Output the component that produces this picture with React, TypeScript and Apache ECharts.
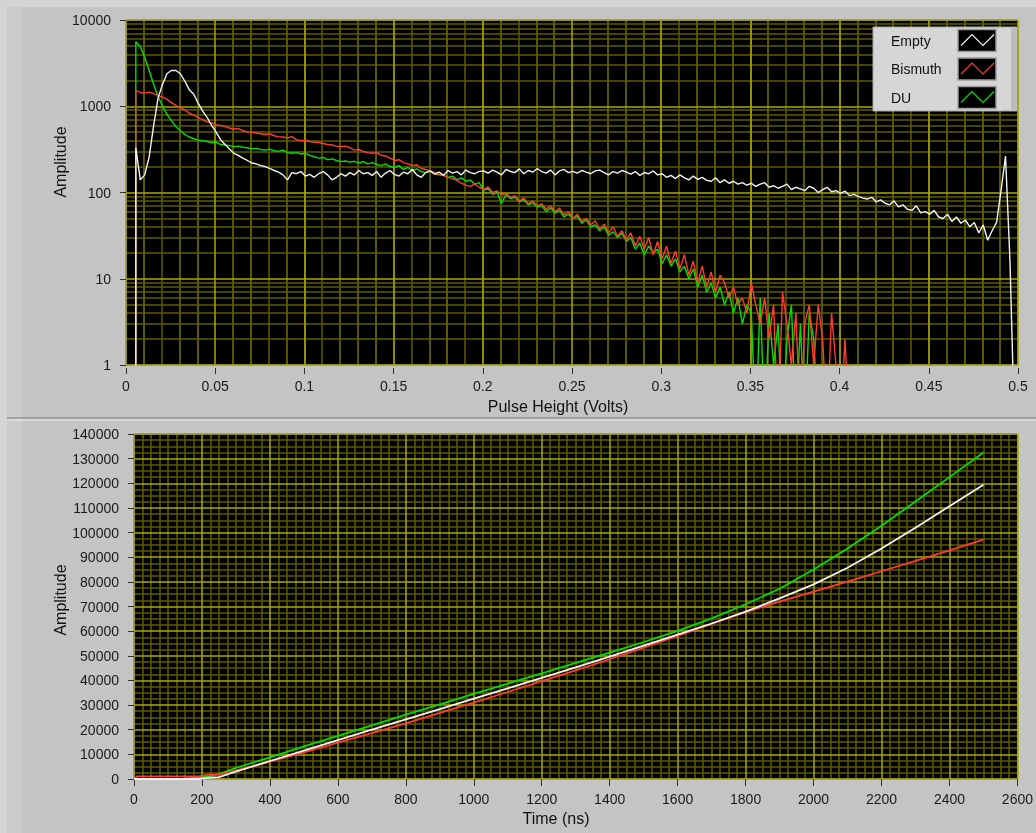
import React, { useEffect, useRef } from "react";
import * as echarts from "echarts";

// ---------- Top graph: pulse-height histograms ----------
const pulseStart = 0.0055; // Volts, first channel drawn
const pulseStep = 0.0025; // Volts per channel

const emptyCounts = [
  330, 140, 160, 260, 600, 1250, 1800, 2400, 2600, 2600,
  2380, 1950, 1550, 1380, 1080, 880, 740, 600, 500, 410,
  360, 320, 285, 270, 250, 235, 220, 215, 205, 200,
  190, 180, 172, 160, 140, 170, 165, 175, 155, 162,
  150, 165, 175, 160, 140, 150, 165, 155, 170, 160,
  180, 165,
  170, 158, 175, 150, 168, 180, 162, 155, 172, 165,
  185, 160, 150, 170, 178, 163, 172, 158, 180, 168,
  175, 160, 182, 170, 165, 176,
  178, 168, 182, 172, 160, 185, 175, 170, 188, 165,
  180, 172, 190, 175, 168, 182, 160, 178, 185, 170,
  176, 168, 180, 172, 165, 178, 182, 170, 160, 175,
  168, 180, 172, 163, 175, 158, 170, 165, 178, 160,
  165, 150, 158, 145, 160, 148, 140, 155, 142, 150,
  138, 135, 148, 130, 140, 128, 135, 125, 130, 122,
  128, 118, 125, 130, 115, 120, 112, 118, 125, 108,
  115, 110, 105, 118, 112, 100, 108, 115, 102, 105,
  98, 104, 92, 95, 90, 86, 84, 88, 78, 82,
  75, 72, 80, 68, 72, 64, 62, 70, 58, 60,
  56, 62, 52, 50, 56, 46, 52, 44, 48, 40,
  45, 34, 42, 28, 36, 45,
  105, 265, 16, 0,
];

const bismuthCounts = [
  1520, 1450, 1420, 1460, 1400, 1330, 1280, 1200, 1100, 1020,
  960, 900, 830, 790, 740, 700, 660, 640, 610, 600,
  580, 560, 545, 550, 520, 505, 500, 490, 480, 470,
  480, 455, 445, 440, 430, 445, 410, 400, 405, 390,
  385, 380, 370, 360, 355, 345, 340, 345, 330, 310,
  315, 300, 290, 285, 290, 270, 265, 250, 235, 240,
  222, 215, 205, 210, 190, 185, 178, 170, 162, 158,
  150, 145, 138, 128, 122, 118, 125, 115,
  108, 116, 100, 104, 94, 98, 88, 92, 80, 86,
  74, 80, 70, 74, 64, 70, 60, 66, 55, 60,
  50, 56, 46, 50, 42, 47, 38, 43, 34, 40,
  31, 36, 28, 34, 24, 31, 22, 30, 19, 27,
  17, 24, 15, 21, 13, 19, 11, 16, 9, 14,
  8, 12, 7, 11,
  9, 6, 8, 5, 6, 4, 9, 5, 3, 6,
  2, 5, 0, 7, 3, 1, 4, 0, 3, 5,
  1, 5, 2, 0, 4, 1, 0, 2, 0,
  0, 1, 0, 0, 0, 0, 1, 0, 0, 0,
  0, 1, 0, 0, 0, 0, 0, 1, 0, 0,
  0, 0, 0, 0, 1, 0, 0, 0, 0, 0,
  0, 0, 0, 0, 0, 0, 0,
];

const duCounts = [
  5600, 4900, 3700, 2600, 1800, 1300, 1000, 800, 680, 580,
  520, 470, 440, 420, 405, 400, 390, 380, 385, 360,
  355, 350, 340, 345, 335, 330, 320, 325, 315, 310,
  318, 305, 300, 310, 290, 285, 290, 280, 285, 270,
  260, 250, 255, 240, 245, 235, 228, 232, 225, 230,
  220, 228, 215, 222, 212, 205, 215, 200, 195, 205,
  185, 195, 180, 188, 175, 170, 178, 165, 160, 158,
  150, 155, 140, 148, 135, 140, 125, 130,
  105, 112, 95, 100, 75, 95, 85, 88, 78, 82,
  72, 76, 68, 70, 60, 66, 58, 62, 52, 56,
  50, 53, 44, 48, 40, 42, 36, 40, 32, 35,
  30, 34, 27, 30, 22, 26, 19, 24, 20, 22,
  15, 19, 14, 17, 12, 14, 10, 13, 8, 11,
  7, 9, 6, 8,
  5, 7, 4, 6, 3, 5, 4, 0, 6, 0,
  4, 1, 3, 0, 2, 5, 0, 3, 0, 4,
  2, 0, 0, 1, 0, 0, 0, 0, 1,
  0, 0, 0, 0, 0, 0, 0, 0, 1, 0,
  0, 0, 0, 0, 0, 0, 0, 0, 0, 0,
  0, 0, 0, 1, 0, 0, 0, 0, 0, 0,
  0, 0, 0, 0, 0, 0, 0,
];

// ---------- Bottom graph: amplitude vs time ----------
const timeNs = [
  0, 10, 140, 190, 220, 250, 300, 400, 500, 600, 700, 800, 900, 1000, 1100,
  1200, 1300, 1400, 1500, 1600, 1700, 1800, 1900, 2000, 2100, 2200, 2300, 2400, 2500,
];
const emptyTrace = [
  0, 0, 0, 0, 500, 800, 3000, 7300, 11500, 15800, 20000, 24200, 28400, 32600, 36800,
  41000, 45300, 49700, 54100, 58600, 63100, 67900, 73300, 79000, 85700, 93500, 102000, 110700, 119400,
];
const bismuthTrace = [
  0, 1100, 1100, 1100, 1800, 1800, 3500, 7000, 10800, 14800, 18600, 22600, 26800, 31000, 35300,
  39700, 44100, 48600, 53300, 58100, 62900, 67700, 72000, 76000, 80100, 84300, 88500, 92800, 97100,
];
const duTrace = [
  0, 0, 0, 600, 1200, 2000, 4500, 8800, 13200, 17500, 21800, 26100, 30300, 34500, 38700,
  42900, 47100, 51300, 55600, 60100, 65200, 70900, 77200, 85000, 93500, 102800, 112600, 122500, 132500,
];

const seriesNames = ["Empty", "Bismuth", "DU"];
const seriesColors = ["#f2f2f2", "#ff3c32", "#00e000"];

const FONT = '"Liberation Sans", Arial, sans-serif';
const MAJOR = "#a8a800";
const MINOR = "#5c5c00";
const LOG_FLOOR = 0.2; // zero counts drawn below the log axis (clipped)

export default function App() {
  const ref = useRef<HTMLDivElement>(null);

  useEffect(() => {
    if (!ref.current) return;
    const chart = echarts.init(ref.current, undefined, { renderer: "svg" });

    const histPairs = (counts: number[]) => [
      [pulseStart, LOG_FLOOR],
      ...counts.map((c, i) => [pulseStart + i * pulseStep, c > 0 ? c : LOG_FLOOR]),
    ];
    const tracePairs = (vals: number[]) => vals.map((v, i) => [timeNs[i], v]);

    // fine grid positions (between the labelled ticks)
    const topMinor: any[] = [];
    [1, 10, 100, 1000].forEach((d) => {
      for (let m = 2; m <= 9; m++) topMinor.push({ yAxis: d * m });
    });
    for (let k = 1; k < 100; k++) if (k % 10) topMinor.push({ xAxis: k * 0.005 });
    const bottomMinor: any[] = [];
    for (let k = 1; k < 104; k++) if (k % 8) bottomMinor.push({ xAxis: k * 25 });
    for (let k = 1; k < 56; k++) if (k % 4) bottomMinor.push({ yAxis: k * 2500 });

    const minorLines = (data: any[]) => ({
      z: 1,
      silent: true,
      symbol: ["none", "none"],
      label: { show: false },
      emphasis: { disabled: true },
      animation: false,
      lineStyle: { color: MINOR, width: 1.5, type: "solid", opacity: 1 },
      data,
    });

    const countsBy = [emptyCounts, bismuthCounts, duCounts];
    const tracesBy = [emptyTrace, bismuthTrace, duTrace];
    const drawOrder = [2, 1, 0];

    const tickLabel = {
      color: "#1a1a1a",
      fontFamily: FONT,
      fontSize: 14,
    };

    const series: any[] = [];
    drawOrder.forEach((k, n) => {
      const s: any = {
        name: seriesNames[k],
        type: "line",
        xAxisIndex: 0,
        yAxisIndex: 0,
        data: histPairs(countsBy[k]),
        symbol: "none",
        showSymbol: false,
        silent: true,
        clip: true,
        z: 4 + n,
        lineStyle: { color: seriesColors[k], width: 1.4 },
        itemStyle: { color: seriesColors[k] },
        emphasis: { disabled: true },
      };
      if (n === 0) s.markLine = minorLines(topMinor);
      series.push(s);
    });
    drawOrder.forEach((k, n) => {
      const s: any = {
        name: seriesNames[k] + " trace",
        type: "line",
        xAxisIndex: 1,
        yAxisIndex: 1,
        data: tracePairs(tracesBy[k]),
        symbol: "none",
        showSymbol: false,
        silent: true,
        clip: true,
        z: 4 + n,
        lineStyle: { color: seriesColors[k], width: 1.8 },
        itemStyle: { color: seriesColors[k] },
        emphasis: { disabled: true },
      };
      if (n === 0) s.markLine = minorLines(bottomMinor);
      series.push(s);
    });

    // legend (LabVIEW plot legend look)
    const legendX = 873;
    const legendY = 27;
    const rowH = 28.5;
    const legendEls: any[] = [
      {
        type: "rect",
        z: 50,
        shape: { x: legendX, y: legendY, width: 144, height: 84 },
        style: { fill: "#d6d6d6", stroke: "#a6a6a6", lineWidth: 1 },
      },
      {
        type: "rect",
        z: 51,
        shape: { x: legendX + 138, y: legendY + 1, width: 5, height: 82 },
        style: { fill: "#bcbcbc" },
      },
    ];
    seriesNames.forEach((nm, k) => {
      const cy = legendY + 13.5 + k * rowH;
      legendEls.push({
        type: "text",
        z: 52,
        x: legendX + 18,
        y: cy,
        style: {
          text: nm,
          fill: "#111",
          font: `14px ${FONT}`,
          verticalAlign: "middle",
          align: "left",
        },
      });
      const sx = legendX + 85;
      const sy = cy - 11;
      legendEls.push({
        type: "rect",
        z: 52,
        shape: { x: sx, y: sy, width: 38, height: 22 },
        style: { fill: "#000", stroke: "#9a9a9a", lineWidth: 1.5 },
      });
      legendEls.push({
        type: "polyline",
        z: 53,
        shape: {
          points: [
            [sx + 3, sy + 16],
            [sx + 14, sy + 5],
            [sx + 25, sy + 16],
            [sx + 36, sy + 5],
          ],
        },
        style: { stroke: seriesColors[k], lineWidth: 1.2, fill: "none" },
      });
    });

    const frame: any[] = [
      { type: "rect", z: -10, shape: { x: 0, y: 0, width: 1036, height: 833 }, style: { fill: "#d4d4d4" } },
      { type: "rect", z: -9, shape: { x: 7, y: 7, width: 1029, height: 410 }, style: { fill: "#c4c4c4" } },
      { type: "rect", z: -9, shape: { x: 7, y: 421, width: 1029, height: 412 }, style: { fill: "#c4c4c4" } },
      { type: "rect", z: -8, shape: { x: 7, y: 7, width: 15, height: 410 }, style: { fill: "#cbcbcb" } },
      { type: "rect", z: -8, shape: { x: 7, y: 421, width: 15, height: 412 }, style: { fill: "#cbcbcb" } },
      { type: "rect", z: -8, shape: { x: 7, y: 417, width: 1029, height: 2 }, style: { fill: "#a2a2a2" } },
      { type: "rect", z: -8, shape: { x: 7, y: 419, width: 1029, height: 2 }, style: { fill: "#dadada" } },
    ];

    const titleStyle = (t: string) => ({
      text: t,
      fill: "#111",
      font: `16px ${FONT}`,
      align: "center",
      verticalAlign: "middle",
    });
    const titles: any[] = [
      { type: "text", z: 20, x: 60, y: 162, rotation: Math.PI / 2, style: titleStyle("Amplitude") },
      { type: "text", z: 20, x: 558, y: 406, style: titleStyle("Pulse Height (Volts)") },
      { type: "text", z: 20, x: 60, y: 600, rotation: Math.PI / 2, style: titleStyle("Amplitude") },
      { type: "text", z: 20, x: 556, y: 818, style: titleStyle("Time (ns)") },
    ];

    const option: any = {
      animation: false,
      backgroundColor: "transparent",
      graphic: [...frame, ...titles, ...legendEls],
      grid: [
        {
          left: 126, top: 20, width: 892, height: 345,
          show: true, backgroundColor: "#000", borderColor: "#7c7c7c", borderWidth: 1,
        },
        {
          left: 134, top: 434, width: 884, height: 345,
          show: true, backgroundColor: "#000", borderColor: "#7c7c7c", borderWidth: 1,
        },
      ],
      xAxis: [
        {
          gridIndex: 0, type: "value", min: 0, max: 0.5, interval: 0.05, offset: 3, z: 2,
          axisLine: { show: false },
          axisTick: { show: true, length: 6, lineStyle: { color: "#333" } },
          axisLabel: {
            ...tickLabel, margin: 11,
            formatter: (v: number) => String(parseFloat(v.toFixed(3))),
          },
          splitLine: { show: true, lineStyle: { color: MAJOR, width: 1.5 } },
        },
        {
          gridIndex: 1, type: "value", min: 0, max: 2600, interval: 200, offset: 3, z: 2,
          axisLine: { show: false },
          axisTick: { show: true, length: 7, lineStyle: { color: "#333" } },
          axisLabel: { ...tickLabel, margin: 10, formatter: (v: number) => String(v) },
          splitLine: { show: true, lineStyle: { color: MAJOR, width: 1.5 } },
        },
      ],
      yAxis: [
        {
          gridIndex: 0, type: "log", logBase: 10, min: 1, max: 10000, offset: 3, z: 2,
          axisLine: { show: false },
          axisTick: { show: true, length: 6, lineStyle: { color: "#333" } },
          axisLabel: { ...tickLabel, margin: 12, formatter: (v: number) => String(Math.round(v)) },
          splitLine: { show: true, lineStyle: { color: MAJOR, width: 1.5 } },
        },
        {
          gridIndex: 1, type: "value", min: 0, max: 140000, interval: 10000, offset: 3, z: 2,
          axisLine: { show: false },
          axisTick: { show: true, length: 6, lineStyle: { color: "#333" } },
          axisLabel: { ...tickLabel, margin: 12, formatter: (v: number) => String(v) },
          splitLine: { show: true, lineStyle: { color: MAJOR, width: 1.5 } },
        },
      ],
      series,
    };

    chart.setOption(option);
    return () => chart.dispose();
  }, []);

  return (
    <div
      ref={ref}
      style={{ position: "fixed", left: 0, top: 0, width: 1036, height: 833 }}
    />
  );
}
